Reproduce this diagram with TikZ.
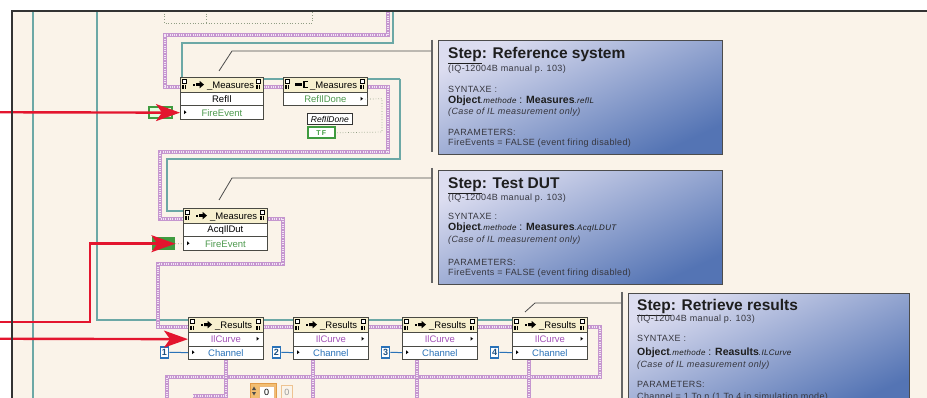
\documentclass[tikz,border=0pt]{standalone}
\usepackage{fontspec}
\setmainfont{Liberation Sans}
\usetikzlibrary{arrows.meta}
\definecolor{bgc}{HTML}{FAF3E9}
\definecolor{wteal}{HTML}{6CA8A6}
\definecolor{errp}{HTML}{C596CF}
\definecolor{errl}{HTML}{F3E6F5}
\definecolor{hdrf}{HTML}{F7F0CF}
\definecolor{ndb}{HTML}{4A4A44}
\definecolor{arrred}{HTML}{E3152E}
\definecolor{tfg}{HTML}{3F9B3F}
\definecolor{fireg}{HTML}{4E9A4E}
\definecolor{chb}{HTML}{2A72B8}
\definecolor{iic}{HTML}{A452B8}
\definecolor{dotg}{HTML}{909E84}
\definecolor{noteA}{HTML}{DCDDF0}
\definecolor{noteM}{HTML}{B9BEE0}
\definecolor{noteB}{HTML}{5474B4}
\definecolor{notetx}{HTML}{1E1E1E}
\definecolor{notegr}{HTML}{36363E}
\definecolor{numo}{HTML}{F2BE72}
\definecolor{numob}{HTML}{E29B48}
\tikzset{
  hdr/.style={draw=ndb, fill=hdrf, line width=0.8pt, minimum width=#1, minimum height=15, inner sep=0pt, anchor=north west},
  rowb/.style={draw=ndb, fill=white, line width=0.8pt, minimum width=#1, minimum height=13.5, inner sep=0pt, anchor=north west, font=\fontsize{9.5}{10}\selectfont},
  tealw/.style={draw=wteal, line width=1.2pt},
  errw/.style={draw=errp, line width=3.2pt, postaction={draw=errl, line width=1.1pt, dash pattern=on 1pt off 1.3pt}},
  redarr/.style={draw=arrred, line width=2.4pt, -{Stealth[length=24pt,width=17pt,inset=6pt]}},
  dotw/.style={draw=dotg, line width=0.7pt, dotted},
  chw/.style={draw=chb, line width=1pt},
  chk/.style={draw=chb, line width=1.6pt, fill=white, minimum width=8, minimum height=11, inner sep=0pt, font=\fontsize{9}{10}\selectfont\bfseries, text=chb!70!black},
  callout/.style={draw=black!70, line width=0.8pt},
  calbar/.style={draw=black!60, line width=1.8pt},
  notebox/.style={draw=black!70, line width=0.9pt, top color=noteA, middle color=noteM, bottom color=noteB, shading angle=25, minimum width=#1, minimum height=114, inner sep=0pt, anchor=north west},
  ntitle/.style={anchor=base west, inner sep=0pt, font=\fontsize{15.5}{17}\selectfont\bfseries, text=notetx},
  nsmall/.style={anchor=base west, inner sep=0pt, font=\fontsize{9}{10}\selectfont\addfontfeature{LetterSpace=4}, text=notegr},
  nobj/.style={anchor=base west, inner sep=0pt, font=\fontsize{10.5}{11}\selectfont, text=notetx},
  nital/.style={anchor=base west, inner sep=0pt, font=\fontsize{9}{10}\selectfont\itshape\addfontfeature{LetterSpace=4}, text=notegr},
}
\newcommand\smit[1]{{\fontsize{8}{9}\selectfont\itshape\addfontfeature{LetterSpace=4}#1}}
\newcommand\lvcorner[2]{%
  \draw[line width=0.4pt, fill=white] ({#1},{#2+2}) rectangle ({#1+4},{#2+6.5});
  \fill ({#1+0.3},{#2+8.5}) rectangle ({#1+1.5},{#2+12.5});
  \fill ({#1+2.5},{#2+8.5}) rectangle ({#1+3.7},{#2+12.5});
}
\newcommand\lvhead[6]{%
  \node[hdr=#4] (#1) at (#2,#3) {};
  \lvcorner{#2+2}{#3}
  \lvcorner{#2+#4-7}{#3}
  \ifnum#6=0
    \fill ({#2+13},{#3+6.6}) rectangle ({#2+15},{#3+8.6});
    \fill ({#2+16},{#3+6.2}) -- ({#2+19.5},{#3+6.2}) -- ({#2+19.5},{#3+3.8}) -- ({#2+24},{#3+7.6}) -- ({#2+19.5},{#3+11.4}) -- ({#2+19.5},{#3+9}) -- ({#2+16},{#3+9}) -- cycle;
  \else
    \fill ({#2+12},{#3+6}) rectangle ({#2+19},{#3+9.4});
    \draw[line width=1.2pt] ({#2+25},{#3+4.6}) -- ({#2+21},{#3+4.6}) -- ({#2+21},{#3+10.8}) -- ({#2+25},{#3+10.8});
  \fi
  \node[anchor=base west, inner sep=0pt, font=\fontsize{9.5}{10}\selectfont] (#1t) at ({#2+27},{#3+11.3}) {#5};
}
\newcommand\lvrow[7]{%
  \node[rowb=#4, text=#6] (#1) at (#2,#3) {#5};
  \ifnum#7=1
    \fill ({#2+4},{#3+4.8}) -- ({#2+6.5},{#3+6.75}) -- ({#2+4},{#3+8.7}) -- cycle;
  \fi
  \ifnum#7=2
    \fill ({#2+#4-6.5},{#3+4.8}) -- ({#2+#4-4},{#3+6.75}) -- ({#2+#4-6.5},{#3+8.7}) -- cycle;
  \fi
}
\begin{document}
\begin{tikzpicture}[x=1pt,y=-1pt]
\useasboundingbox (0,0) rectangle (927,398);
\begin{scope}
\clip (0,0) rectangle (927,398);
% background and frame
\fill[white] (0,0) rectangle (927,398);
\fill[bgc] (12,11) rectangle (927,398);
% top dotted box
\draw[dotw] (164,11) -- (164,23) -- (312,23) -- (312,11);
\draw[dotw] (206,11) -- (206,23);
% teal wires
\draw[tealw] (33,11) -- (33,398);
\draw[tealw] (393,11) -- (393,43) -- (182,43) -- (182,77);
\draw[tealw] (400,79) -- (400,159) -- (167,159) -- (167,211) -- (183,211);
\draw[tealw] (97,11) -- (97,320) -- (188,320);
% error wires
\draw[errw] (388,11) -- (388,35) -- (165,35) -- (165,87) -- (180,87);
\draw[errw] (367,87) -- (388,87) -- (388,152) -- (160,152) -- (160,219) -- (183,219);
\draw[errw] (267,219) -- (283,219) -- (283,264) -- (158,264) -- (158,327) -- (188,327);
\draw[errw] (587,327) -- (600,327) -- (600,377) -- (167,377) -- (167,398);
\draw[errw] (226,359) -- (226,396) -- (193,396);
\draw[errw] (313,359) -- (313,398);
\draw[errw] (417,359) -- (417,398);
\draw[errw] (529,359) -- (529,398);
% nodes
\lvhead{m1}{180}{77}{83}{\_Measures}{0}
\lvrow{m1a}{180}{92}{83}{RefIl}{black}{0}
\lvrow{m1b}{180}{105.5}{83}{FireEvent}{fireg}{1}
\lvhead{m2}{283}{77}{84}{\_Measures}{1}
\lvrow{m2a}{283}{92}{84}{RefIlDone}{fireg}{2}
\lvhead{m3}{183}{208}{84}{\_Measures}{0}
\lvrow{m3a}{183}{223}{84}{AcqIlDut}{black}{0}
\lvrow{m3b}{183}{236.5}{84}{FireEvent}{fireg}{1}
\lvhead{r1}{188}{317}{75}{\_Results}{0}
\lvrow{r1a}{188}{332}{75}{IlCurve}{iic}{2}
\lvrow{r1b}{188}{345.5}{75}{Channel}{chb}{1}
\lvhead{r2}{293}{317}{75}{\_Results}{0}
\lvrow{r2a}{293}{332}{75}{IlCurve}{iic}{2}
\lvrow{r2b}{293}{345.5}{75}{Channel}{chb}{1}
\lvhead{r3}{402}{317}{75}{\_Results}{0}
\lvrow{r3a}{402}{332}{75}{IlCurve}{iic}{2}
\lvrow{r3b}{402}{345.5}{75}{Channel}{chb}{1}
\lvhead{r4}{512}{317}{75}{\_Results}{0}
\lvrow{r4a}{512}{332}{75}{IlCurve}{iic}{2}
\lvrow{r4b}{512}{345.5}{75}{Channel}{chb}{1}
% wires between nodes
\draw[tealw] ([yshift=-2pt]m1.north east) -- ([yshift=-2pt]m2.north west);
\draw[tealw] ([yshift=-2pt]m2.north east) -- (400,79);
\draw[errw] ([yshift=-10pt]m1.north east) -- ([yshift=-10pt]m2.north west);
\foreach \a/\b in {r1/r2,r2/r3,r3/r4}{
  \draw[tealw] ([yshift=-3pt]\a.north east) -- ([yshift=-3pt]\b.north west);
  \draw[errw] ([yshift=-10pt]\a.north east) -- ([yshift=-10pt]\b.north west);
}
% constants
\node[draw=tfg, line width=1.6pt, fill=green!12, minimum width=23, minimum height=11, inner sep=0pt, anchor=north west] (k1) at (148,106.5) {};
\draw[dotw] (k1.east) -- (m1b.west);
\node[draw=tfg, line width=1.4pt, fill=tfg, minimum width=22, minimum height=11, inner sep=0pt, anchor=north west, text=white, font=\fontsize{7}{8}\selectfont\bfseries] (k3) at (152,237.5) {T\,F};
\draw[dotw] (k3.east) -- (m3b.west);
\node[draw=black!80, line width=0.7pt, fill=white, minimum width=45, minimum height=11.5, inner sep=0pt, anchor=north west, font=\fontsize{8.5}{9}\selectfont\itshape] (lbl) at (307,113) {RefIlDone};
\node[draw=tfg, line width=1.6pt, fill=white, minimum width=27, minimum height=11, inner sep=0pt, anchor=north west, text=tfg, font=\fontsize{7}{8}\selectfont\bfseries] (tf) at (307,126.5) {T\,F};
\draw[dotw] ([xshift=-3pt]m2a.east) -- (382,98.75) -- (382,132) -- (tf.east);
\node[chk] (c1) at (164.5,352.25) {1};
\node[chk] (c2) at (276.5,352.25) {2};
\node[chk] (c3) at (385.5,352.25) {3};
\node[chk] (c4) at (494.5,352.25) {4};
\foreach \c/\r in {c1/r1b,c2/r2b,c3/r3b,c4/r4b}{\draw[chw] (\c.east) -- (\r.west);}
% numeric control
\node[draw=numob, fill=numo, line width=0.8pt, minimum width=26, minimum height=17, inner sep=0pt, anchor=north west] (num) at (250,383) {};
\node[draw=numob!70, fill=white, minimum width=15, minimum height=13, inner sep=0pt, anchor=north west, font=\fontsize{9}{10}\selectfont] (numf) at (259,385.5) {0};
\fill[black!70] (252,390) -- (254,386.5) -- (256,390) -- cycle;
\fill[black!70] (252,392) -- (254,395.5) -- (256,392) -- cycle;
\node[draw=numob!60, fill=bgc, line width=0.8pt, minimum width=11, minimum height=14, inner sep=0pt, anchor=north west, text=black!40, font=\fontsize{9}{10}\selectfont] (numi) at (281,385) {0};
% red arrows
\coordinate (a1s) at (0,112.25);
\draw[redarr] (a1s) -- (m1b.west);
\coordinate (a2s) at (0,322);
\coordinate (a2c) at (90,322);
\draw[redarr] (a2s) -- (a2c) |- (k3.east);
\coordinate (a3s) at (0,338.75);
\draw[redarr] (a3s) -- (r1a.west);
% callouts
\coordinate (cl1) at (219,71);
\coordinate (cb1) at (432,51);
\draw[callout] (cl1) -- (232,51) -- (cb1);
\draw[calbar] (432,40) -- (432,152);
\coordinate (cl2) at (219,200);
\coordinate (cb2) at (432,178);
\draw[callout] (cl2) -- (232,178) -- (cb2);
\draw[calbar] (432,168) -- (432,283);
\coordinate (cl3) at (525,312);
\coordinate (cb3) at (622,303);
\draw[callout] (cl3) -- (535,303) -- (cb3);
\draw[calbar] (622,292) -- (622,398);
% note 1
\node[notebox=284] (note1) at (438,40) {};
\node[ntitle] (n1t) at (448,59) {\underline{Step}: Reference system};
\node[nsmall] (n1s) at (448,71.5) {(IQ-12004B manual p. 103)};
\node[nsmall] (n1y) at (448,93) {SYNTAXE :};
\node[nobj] (n1o) at (448,104) {\textbf{Object}\smit{.methode} : \textbf{Measures}\smit{.reflL}};
\node[nital] (n1c) at (448,114.5) {(Case of IL measurement only)};
\node[nsmall] (n1p) at (448,135.5) {PARAMETERS:};
\node[nsmall] (n1f) at (448,145.5) {FireEvents = FALSE (event firing disabled)};
% note 2
\node[notebox=284] (note2) at (438,170) {};
\node[ntitle] (n2t) at (448,189) {\underline{Step}: Test DUT};
\node[nsmall] (n2s) at (448,200.5) {(IQ-12004B manual p. 103)};
\node[nsmall] (n2y) at (448,220) {SYNTAXE :};
\node[nobj] (n2o) at (448,231) {\textbf{Object}\smit{.methode} : \textbf{Measures}\smit{.AcqILDUT}};
\node[nital] (n2c) at (448,243) {(Case of IL measurement only)};
\node[nsmall] (n2p) at (448,265.5) {PARAMETERS:};
\node[nsmall] (n2f) at (448,275.5) {FireEvents = FALSE (event firing disabled)};
% note 3
\node[notebox=281] (note3) at (628,293) {};
\node[ntitle] (n3t) at (637,310.5) {\underline{Step}: Retrieve results};
\node[nsmall] (n3s) at (637,321.5) {(IQ-12004B manual p. 103)};
\node[nsmall] (n3y) at (637,341.5) {SYNTAXE :};
\node[nobj] (n3o) at (637,355) {\textbf{Object}\smit{.methode} : \textbf{Reasults}\smit{.ILCurve}};
\node[nital] (n3c) at (637,367) {(Case of IL measurement only)};
\node[nsmall] (n3p) at (637,387.5) {PARAMETERS:};
\node[nsmall] (n3f) at (637,399.5) {Channel = 1 To n (1 To 4 in simulation mode)};
% frame
\draw[black!80, line width=1.6pt] (12,398) -- (12,11) -- (927,11);
\end{scope}
\end{tikzpicture}
\end{document}
